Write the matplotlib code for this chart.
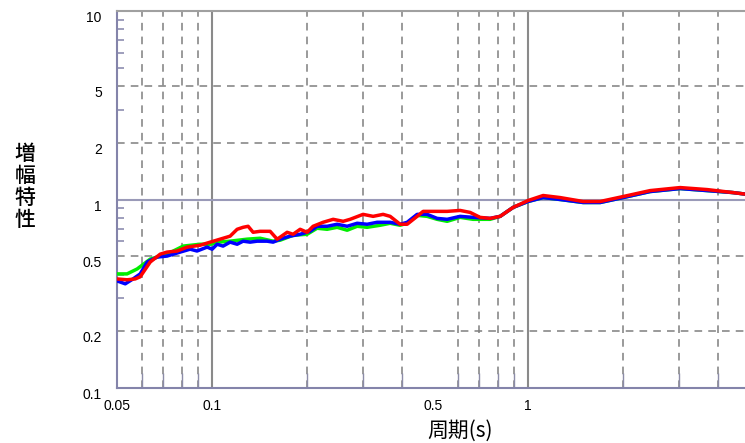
import matplotlib
matplotlib.use("Agg")
import matplotlib.pyplot as plt
from matplotlib.transforms import ScaledTranslation

# values (period in s, amplification)
green_period = [0.0500, 0.0538, 0.0579, 0.0637, 0.0720, 0.0810, 0.0916, 0.0986, 0.1044,
                0.1140, 0.1290, 0.1418, 0.1560, 0.1641, 0.1804, 0.1998, 0.2149, 0.2312,
                0.2486, 0.2675, 0.2877, 0.3094, 0.3401, 0.3659, 0.3935, 0.4141, 0.4454,
                0.4790, 0.5153, 0.5543, 0.6092, 0.6699, 0.7581, 0.8155, 0.8965, 1.0,
                1.1155, 1.2626, 1.4930, 1.6901, 1.9984, 2.4322, 3.0270, 3.6864, 4.4545, 5.0]
green_amp = [0.403, 0.403, 0.428, 0.483, 0.513, 0.566, 0.579, 0.579, 0.594,
             0.601, 0.616, 0.623, 0.601, 0.608, 0.646, 0.654, 0.704, 0.695,
             0.712, 0.687, 0.721, 0.712, 0.730, 0.748, 0.730, 0.748, 0.824,
             0.814, 0.785, 0.766, 0.804, 0.785, 0.785, 0.814, 0.908, 0.976,
             1.024, 1.000, 0.964, 0.964, 1.024, 1.102, 1.143, 1.115, 1.088, 1.062]

blue_period = [0.0500, 0.0531, 0.0562, 0.0592, 0.0623, 0.0670, 0.0720, 0.0792, 0.0852,
               0.0896, 0.0964, 0.1000, 0.1037, 0.1083, 0.1140, 0.1200, 0.1253, 0.1319,
               0.1388, 0.1493, 0.1560, 0.1641, 0.1765, 0.1899, 0.2042, 0.2149, 0.2312,
               0.2486, 0.2675, 0.2877, 0.3094, 0.3328, 0.3659, 0.3935, 0.4141, 0.4454,
               0.4790, 0.5153, 0.5543, 0.6092, 0.6699, 0.7581, 0.8155, 0.8965, 1.0,
               1.1155, 1.2626, 1.4930, 1.6901, 1.9984, 2.4322, 3.0270, 3.6864, 4.4545, 5.0]
blue_amp = [0.370, 0.357, 0.379, 0.403, 0.466, 0.495, 0.501, 0.526, 0.545,
            0.533, 0.559, 0.545, 0.579, 0.566, 0.594, 0.579, 0.601, 0.594,
            0.601, 0.601, 0.594, 0.616, 0.639, 0.654, 0.678, 0.721, 0.721,
            0.739, 0.721, 0.748, 0.739, 0.757, 0.757, 0.739, 0.757, 0.834,
            0.834, 0.794, 0.785, 0.814, 0.804, 0.794, 0.814, 0.908, 0.976,
            1.024, 1.000, 0.964, 0.964, 1.024, 1.102, 1.143, 1.115, 1.088, 1.062]

red_period = [0.0500, 0.0538, 0.0571, 0.0592, 0.0637, 0.0685, 0.0720, 0.0775, 0.0834,
              0.0916, 0.0986, 0.1060, 0.1140, 0.1200, 0.1253, 0.1300, 0.1348, 0.1418,
              0.1526, 0.1606, 0.1641, 0.1727, 0.1804, 0.1899, 0.1998, 0.2087, 0.2245,
              0.2415, 0.2598, 0.2733, 0.3004, 0.3232, 0.3476, 0.3659, 0.3935, 0.4141,
              0.4454, 0.4653, 0.5003, 0.5543, 0.6092, 0.6554, 0.7046, 0.7581, 0.8155,
              0.8965, 1.0, 1.1155, 1.2626, 1.4930, 1.6901, 1.9984, 2.4322, 3.0270,
              3.6864, 4.4545, 5.0]
red_amp = [0.379, 0.375, 0.379, 0.389, 0.466, 0.513, 0.526, 0.533, 0.559,
           0.572, 0.594, 0.616, 0.639, 0.695, 0.712, 0.721, 0.670, 0.678,
           0.678, 0.616, 0.631, 0.670, 0.654, 0.695, 0.670, 0.721, 0.757,
           0.785, 0.766, 0.785, 0.834, 0.814, 0.834, 0.814, 0.739, 0.739,
           0.814, 0.865, 0.865, 0.865, 0.875, 0.854, 0.804, 0.794, 0.814,
           0.908, 0.988, 1.050, 1.024, 0.976, 0.976, 1.037, 1.115, 1.157,
           1.129, 1.088, 1.062]

x_ticks = [0.05, 0.1, 0.5, 1, 5]
x_labels = ["0.05", "0.1", "0.5", "1", "5"]
x_minor = [0.06, 0.07, 0.08, 0.09, 0.2, 0.3, 0.4, 0.6, 0.7, 0.8, 0.9, 2, 3, 4]
y_ticks = [0.1, 0.2, 0.5, 1, 2, 4, 10]
y_labels = ["0.1", "0.2", "0.5", "1", "2", "5", "10"]
y_minor = [0.3, 0.4, 0.6, 0.7, 0.8, 0.9, 3, 5, 6, 7, 8, 9]

plt.rcParams['font.family'] = ['Liberation Sans', 'DejaVu Sans']
cjk = ['Noto Sans CJK JP', 'DejaVu Sans']

W, H = 745, 443
fig = plt.figure(figsize=(W / 100, H / 100), dpi=100)
ax = fig.add_axes([117 / W, (H - 388) / H, (749 - 117) / W, (388 - 11) / H])
ax.set_xscale("log")
ax.set_yscale("log")
ax.set_xlim(0.05, 5)
ax.set_ylim(0.1, 10)

spine_col = "#8484aa"
grid_col = "#7f7f7f"
dash = (0, (5, 4))

# grid lines
for x in x_minor:
    ax.axvline(x, color=grid_col, lw=1.1, ls=dash, zorder=1)
for x in [0.1, 1]:
    ax.axvline(x, color="#8a8a8a", lw=1.5, zorder=1)
for y in [0.2, 0.5, 2, 4]:
    ax.axhline(y, color=grid_col, lw=1.1, ls=dash, zorder=1)
ax.axhline(1, color="#9a9ab8", lw=1.5, zorder=1)

ax.plot(green_period, green_amp, color="#00ee00", lw=2.5, zorder=3, solid_joinstyle="round")
ax.plot(blue_period, blue_amp, color="#0000ff", lw=2.5, zorder=4, solid_joinstyle="round")
ax.plot(red_period, red_amp, color="#ff0000", lw=2.5, zorder=5, solid_joinstyle="round")

ax.set_xticks(x_ticks)
ax.set_xticklabels(x_labels)
ax.set_xticks(x_minor, minor=True)
ax.set_xticklabels([], minor=True)
ax.set_yticks(y_ticks)
ax.set_yticklabels(y_labels)
ax.set_yticks(y_minor, minor=True)
ax.set_yticklabels([], minor=True)

ax.tick_params(axis="x", which="major", length=0, pad=8, labelsize=10)
ax.tick_params(axis="x", which="minor", direction="in", length=11, width=1, color="#8c8ca8")
ax.tick_params(axis="y", which="major", length=0, pad=11, labelsize=10)
ax.tick_params(axis="y", which="minor", direction="in", length=5, width=1.1, color=spine_col)

shift = ScaledTranslation(0, -4 / 72, fig.dpi_scale_trans)
for lab in ax.get_yticklabels():
    lab.set_transform(lab.get_transform() + shift)

for s in ["left", "bottom"]:
    ax.spines[s].set_color(spine_col)
    ax.spines[s].set_linewidth(1.5)
ax.spines["top"].set_color("#a0a0a0")
ax.spines["top"].set_linewidth(1.5)
ax.spines["right"].set_visible(False)

fig.text(460 / W, 1 - 431 / H, "周期(s)", family=cjk, fontsize=15, ha="center", va="center")
fig.text(25 / W, 1 - 187 / H, "増\n幅\n特\n性", family=cjk, fontsize=15, weight="medium",
         ha="center", va="center", linespacing=1.0)

fig.savefig("out.png", dpi=100)
